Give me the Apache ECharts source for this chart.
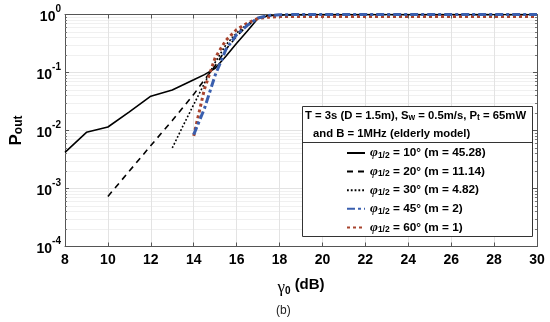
<!DOCTYPE html>
<html><head><meta charset="utf-8">
<script src="https://cdn.jsdelivr.net/npm/echarts@6/dist/echarts.min.js"></script>
<style>html,body{margin:0;padding:0;background:#fff}#c{width:550px;height:322px}</style>
</head><body><div id="c"></div>
<script>
// ---- data ----
var xTicks = [8, 10, 12, 14, 16, 18, 20, 22, 24, 26, 28, 30];
var seriesNames = ['10° (m = 45.28)', '20° (m = 11.14)', '30° (m = 4.82)', '45° (m = 2)', '60° (m = 1)'];

var gamma10 = [8, 9, 10, 11, 12, 13, 14, 14.5, 15, 15.5, 16, 16.5, 17, 17.5, 18, 19, 20, 22, 24, 26, 28, 30];
var pout10  = [0.0042, 0.0093, 0.0115, 0.021, 0.039, 0.05, 0.075, 0.092, 0.118, 0.19, 0.32, 0.52, 0.86, 0.95, 0.98, 0.99, 1, 1, 1, 1, 1, 1];

var gamma20 = [10, 11, 12, 13, 14, 14.5, 15, 15.5, 16, 16.5, 17, 17.5, 18, 19, 20, 22, 24, 26, 28, 30];
var pout20  = [0.00073, 0.002, 0.0055, 0.0149, 0.042, 0.075, 0.13, 0.25, 0.42, 0.65, 0.87, 0.96, 0.99, 1, 1, 1, 1, 1, 1, 1];

var gamma30 = [13, 13.5, 14, 14.5, 15, 15.5, 16, 16.5, 17, 17.5, 18, 19, 20, 22, 24, 26, 28, 30];
var pout30  = [0.005, 0.012, 0.028, 0.065, 0.15, 0.3, 0.48, 0.68, 0.87, 0.96, 0.99, 1, 1, 1, 1, 1, 1, 1];

var gamma45 = [14, 14.5, 15, 15.5, 16, 16.5, 17, 17.5, 18, 19, 20, 22, 24, 26, 28, 30];
var pout45  = [0.0085, 0.024, 0.09, 0.25, 0.45, 0.65, 0.87, 0.96, 0.99, 1, 1, 1, 1, 1, 1, 1];

var gamma60 = [14, 14.5, 15, 15.5, 16, 16.5, 17, 17.5, 18, 19, 20, 22, 24, 26, 28, 30];
var pout60  = [0.0081, 0.052, 0.18, 0.36, 0.55, 0.71, 0.86, 0.9, 0.92, 0.92, 0.92, 0.92, 0.92, 0.92, 0.92, 0.92];

function pairs(xs, ys) { return xs.map(function (x, i) { return [x, ys[i]]; }); }

var F = 'Liberation Sans, Arial, sans-serif';
var chart = echarts.init(document.getElementById('c'), null, {renderer: 'canvas'});

var yLabel = {
  show: true, color: '#000', fontFamily: F, fontWeight: 'bold', margin: 4,
  formatter: function (v) { var e = Math.round(Math.log10(v)); return '{b|10}{s|' + e + '}'; },
  rich: {
    b: {fontSize: 14, fontWeight: 'bold', fontFamily: F, color: '#000', lineHeight: 20, verticalAlign: 'bottom'},
    s: {fontSize: 10, fontWeight: 'bold', fontFamily: F, color: '#000', lineHeight: 20, verticalAlign: 'top', padding: [0, 0, 4, 0]}
  }
};

function legendFmt(name) {
  return '{p|φ}{s|1/2}{t| = ' + name + '}';
}

var lineStyles = [
  {color: '#000', width: 1.6, type: 'solid'},
  {color: '#000', width: 1.6, type: [6, 5]},
  {color: '#000', width: 1.6, type: [1.8, 2]},
  {color: '#3a5fae', width: 3, type: [8, 3, 3, 3]},
  {color: '#a8442e', width: 3, type: [3, 3]}
];
var datas = [pairs(gamma10, pout10), pairs(gamma20, pout20), pairs(gamma30, pout30), pairs(gamma45, pout45), pairs(gamma60, pout60)];

var series = seriesNames.map(function (n, i) {
  return {
    name: n, type: 'line', data: datas[i], showSymbol: false, symbol: 'none',
    lineStyle: lineStyles[i], color: lineStyles[i].color, z: 3 + (i === 3 ? 2 : 0), animation: false
  };
});

var option = {
  animation: false,
  backgroundColor: '#fff',
  grid: {left: 64.5, right: 13, top: 14.5, bottom: 75.5, containLabel: false},
  xAxis: [{
    type: 'value', min: 8, max: 30, interval: 2,
    name: '{g|γ}{s|0}{t| (dB)}', nameLocation: 'middle', nameGap: 30,
    nameTextStyle: {
      rich: {
        g: {fontSize: 17, fontFamily: 'Liberation Serif, serif', color: '#000', lineHeight: 20, verticalAlign: 'bottom'},
        s: {fontSize: 10, fontWeight: 'bold', fontFamily: F, color: '#000', lineHeight: 20, verticalAlign: 'bottom'},
        t: {fontSize: 15, fontWeight: 'bold', fontFamily: F, color: '#000', lineHeight: 20, verticalAlign: 'bottom', padding: [0, 0, 4, 0]}
      }
    },
    axisLine: {show: true, lineStyle: {color: '#555', width: 1}},
    axisTick: {show: true, inside: true, length: 4, lineStyle: {color: '#555'}},
    axisLabel: {color: '#000', fontSize: 14, fontWeight: 'bold', fontFamily: F, margin: 7},
    splitLine: {show: true, lineStyle: {color: '#e3e3e3', width: 1}}
  }, {
    type: 'value', min: 8, max: 30, interval: 2, position: 'top',
    axisLine: {show: true, onZero: false, lineStyle: {color: '#555', width: 1}},
    axisTick: {show: true, inside: true, length: 4, lineStyle: {color: '#555'}},
    axisLabel: {show: false}, splitLine: {show: false}
  }],
  yAxis: [{
    type: 'log', logBase: 10, min: 1e-4, max: 1,
    name: '{p|P}{s|out}', nameLocation: 'middle', nameGap: 40, nameRotate: 90,
    nameTextStyle: {
      rich: {
        p: {fontSize: 17, fontWeight: 'bold', fontFamily: F, color: '#000', lineHeight: 22, verticalAlign: 'bottom'},
        s: {fontSize: 12, fontWeight: 'bold', fontFamily: F, color: '#000', lineHeight: 22, verticalAlign: 'bottom'}
      }
    },
    axisLine: {show: true, lineStyle: {color: '#555', width: 1}},
    axisTick: {show: true, inside: true, length: 4, lineStyle: {color: '#555'}},
    minorTick: {show: true, splitNumber: 9, length: 2, lineStyle: {color: '#777'}},
    axisLabel: yLabel,
    splitLine: {show: true, lineStyle: {color: '#e3e3e3', width: 1}},
    minorSplitLine: {show: true, lineStyle: {color: '#f0f0f0', width: 1}}
  }, {
    type: 'log', logBase: 10, min: 1e-4, max: 1, position: 'right',
    axisLine: {show: true, onZero: false, lineStyle: {color: '#555', width: 1}},
    axisTick: {show: true, inside: true, length: 4, lineStyle: {color: '#555'}},
    minorTick: {show: true, splitNumber: 9, length: 2, lineStyle: {color: '#777'}},
    axisLabel: {show: false}, splitLine: {show: false}
  }],
  legend: {
    show: true, orient: 'vertical', left: 346, top: 146, z: 20,
    itemWidth: 18, itemHeight: 10, itemGap: 4.6, padding: 0,
    itemStyle: {color: 'transparent', borderWidth: 0, opacity: 0},
    formatter: legendFmt,
    textStyle: {
      fontFamily: F, fontWeight: 'bold', fontSize: 11.8, color: '#000', lineHeight: 14,
      rich: {
        p: {fontSize: 13.5, fontFamily: 'Liberation Serif, serif', fontStyle: 'italic', color: '#000', lineHeight: 14, verticalAlign: 'middle'},
        s: {fontSize: 8.5, fontWeight: 'bold', fontFamily: F, color: '#000', lineHeight: 14, verticalAlign: 'bottom'},
        t: {fontSize: 11.8, fontWeight: 'bold', fontFamily: F, color: '#000', lineHeight: 14, verticalAlign: 'middle'}
      }
    },
    data: seriesNames
  },
  graphic: [
    {type: 'rect', shape: {x: 302.5, y: 106.5, width: 230, height: 130}, style: {fill: '#fff', stroke: '#333', lineWidth: 1}, z: 10},
    {type: 'line', shape: {x1: 302.5, y1: 142.5, x2: 532.5, y2: 142.5}, style: {stroke: '#333', lineWidth: 1}, z: 11},
    {type: 'text', left: 305, top: 110, z: 11, style: {
      text: '{t|T = 3s (D = 1.5m), S}{s|w}{t| = 0.5m/s, P}{s|t}{t| = 65mW}',
      rich: {
        t: {fontSize: 11.3, fontWeight: 'bold', fontFamily: F, fill: '#000', lineHeight: 13, verticalAlign: 'middle'},
        s: {fontSize: 8.5, fontWeight: 'bold', fontFamily: F, fill: '#000', lineHeight: 13, verticalAlign: 'bottom'}
      }
    }},
    {type: 'text', left: 313, top: 128, z: 11, style: {
      text: 'and B = 1MHz (elderly model)', fontSize: 11.3, fontWeight: 'bold', fontFamily: F, fill: '#000'
    }},
    {type: 'text', left: 276, top: 305, z: 11, style: {
      text: '(b)', fontSize: 12, fontFamily: F, fill: '#222'
    }}
  ],
  series: series
};
chart.setOption(option);
</script>
</body></html>
